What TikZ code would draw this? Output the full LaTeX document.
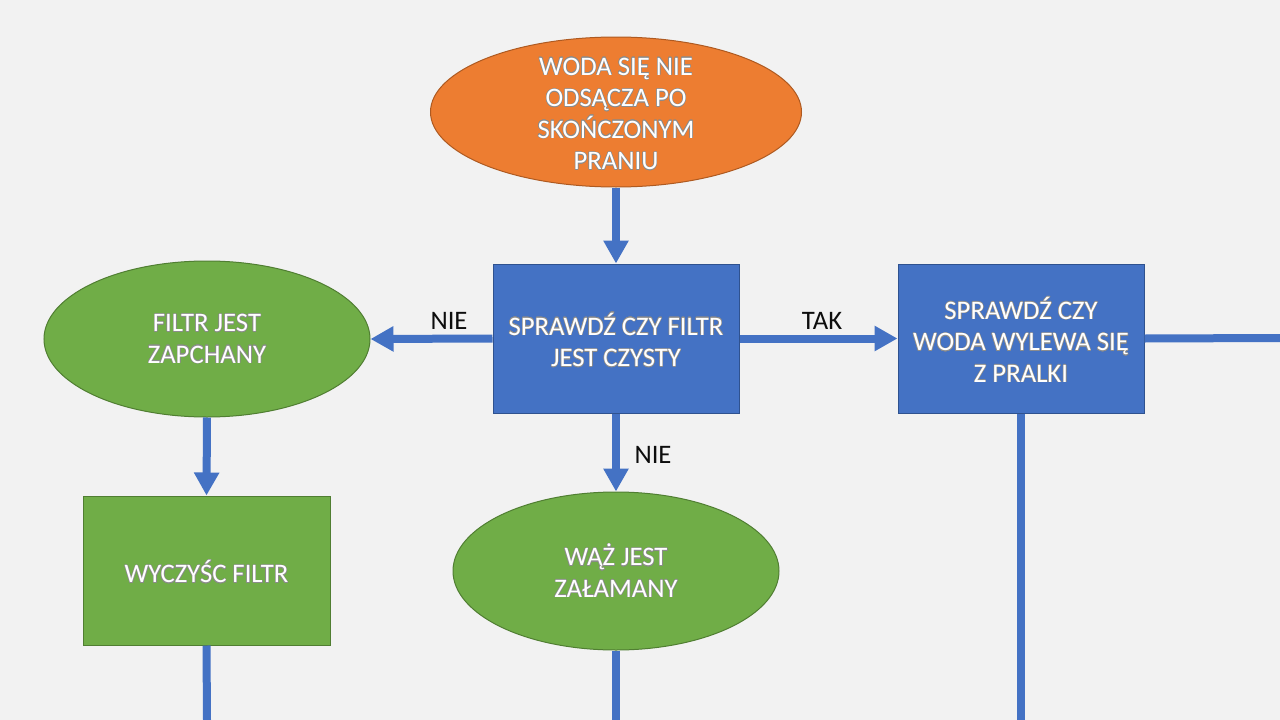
\documentclass[tikz,border=0pt]{standalone}
\usepackage{fontspec}
\setmainfont{Carlito}
\usepackage{contour}
\contourlength{0.45pt}
\usetikzlibrary{shapes.geometric,arrows.meta}
\definecolor{bgc}{HTML}{F2F2F2}
\definecolor{orf}{HTML}{ED7D31}
\definecolor{ord}{HTML}{AE5A21}
\definecolor{blf}{HTML}{4472C4}
\definecolor{bld}{HTML}{2F528F}
\definecolor{grf}{HTML}{70AD47}
\definecolor{grd}{HTML}{507E32}
\definecolor{outl}{HTML}{8C8C8C}
\newcommand{\wt}[1]{\contour{outl}{#1}}
\tikzset{
  txt/.style={text=white, align=center, font=\fontsize{26.7}{31.5}\selectfont, inner sep=0pt},
  lbl/.style={text=black!95, font=\fontsize{26.7}{31.5}\selectfont, inner sep=0pt},
  oval/.style={ellipse, inner sep=0pt, line width=1pt},
  boxn/.style={rectangle, inner sep=0pt, line width=1pt},
  conn/.style={line width=8pt, draw=blf},
  arr/.style={conn, -{Triangle[length=23pt,width=24pt]}},
}
\begin{document}
\begin{tikzpicture}[x=1pt,y=-1pt]
\fill[bgc] (0,0) rectangle (1280,720);
\useasboundingbox (0,0) rectangle (1280,720);

\node[oval, fill=orf, draw=ord, minimum width=371pt, minimum height=150pt] (start) at (616,112) {};
\node[txt] (starttxt) at (616,114) {\wt{WODA SIĘ NIE}\\\wt{ODSĄCZA PO}\\\wt{SKOŃCZONYM}\\\wt{PRANIU}};

\node[boxn, fill=blf, draw=bld, minimum width=246pt, minimum height=149pt] (chk1) at (616,338.5) {};
\node[txt] (chk1txt) at (616,340) {\wt{SPRAWDŹ CZY FILTR}\\\wt{JEST CZYSTY}};

\node[boxn, fill=blf, draw=bld, minimum width=246pt, minimum height=149pt] (chk2) at (1021,338.5) {};
\node[txt] (chk2txt) at (1021,340) {\wt{SPRAWDŹ CZY}\\\wt{WODA WYLEWA SIĘ}\\\wt{Z PRALKI}};

\node[oval, fill=grf, draw=grd, minimum width=326pt, minimum height=156pt] (filtr) at (207,339) {};
\node[txt] (filtrtxt) at (207,339) {\wt{FILTR JEST}\\\wt{ZAPCHANY}};

\node[boxn, fill=grf, draw=grd, minimum width=247pt, minimum height=149pt] (clean) at (206.5,570.5) {};
\node[txt] (cleantxt) at (206.5,572) {\wt{WYCZYŚC FILTR}};

\node[oval, fill=grf, draw=grd, minimum width=326pt, minimum height=158pt] (waz) at (616,571) {};
\node[txt] (waztxt) at (616,571) {\wt{WĄŻ JEST}\\\wt{ZAŁAMANY}};

\coordinate (e1) at (207,720);
\coordinate (e2) at (616,720);
\coordinate (e3) at (1021,720);
\coordinate (e4) at (1280,338);

\draw[arr] (start.south) -- (chk1.north);
\draw[arr] (chk1.west) -- (filtr.east);
\draw[arr] (chk1.east) -- (chk2.west);
\draw[arr] (chk1.south) -- (waz.north);
\draw[arr] (filtr.south) -- (clean.north);
\draw[conn] (clean.south) -- (e1);
\draw[conn] (waz.south) -- (e2);
\draw[conn] (chk2.south) -- (e3);
\draw[conn] (chk2.east) -- (e4);

\node[lbl] (nie1) at (449,321) {NIE};
\node[lbl] (tak) at (822,321) {TAK};
\node[lbl] (nie2) at (653,455) {NIE};
\end{tikzpicture}
\end{document}
